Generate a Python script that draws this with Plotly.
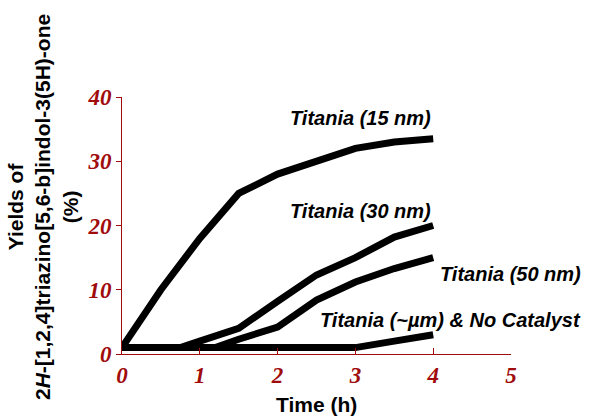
import plotly.graph_objects as go

# Data (time in h, yield in %)
t_15 = [0, 0.5, 1, 1.5, 2, 2.5, 3, 3.5, 4]
y_15 = [1, 10, 18, 25, 28, 30, 32, 33, 33.5]
t_30 = [0, 0.5, 0.75, 1, 1.5, 2, 2.5, 3, 3.5, 4]
y_30 = [1, 1, 1, 2, 4, 8.2, 12.3, 15, 18.2, 20]
t_50 = [0, 0.5, 1, 1.2, 1.5, 2, 2.5, 3, 3.5, 4]
y_50 = [1, 1, 1, 1, 2.3, 4.2, 8.4, 11.2, 13.3, 15]
t_um = [0, 0.5, 1, 1.5, 2, 2.5, 3, 3.5, 4]
y_um = [1, 1, 1, 1, 1, 1, 1, 2, 3]

labels = ["Titania (15 nm)", "Titania (30 nm)", "Titania (50 nm)",
          "Titania (~<i>µ</i>m) & No Catalyst"]
label_pos = [(4.0, 36.7, "right"), (4.0, 22.2, "right"),
             (4.06, 12.4, "left"), (2.52, 5.3, "left")]

x_ticks = [0, 1, 2, 3, 4, 5]
y_ticks = [0, 10, 20, 30, 40]

RED = "#a00c0c"

fig = go.Figure()
for tx, ty in [(t_15, y_15), (t_30, y_30), (t_50, y_50), (t_um, y_um)]:
    fig.add_trace(go.Scatter(x=tx, y=ty, mode="lines",
                             line=dict(color="black", width=7),
                             cliponaxis=False, showlegend=False))

for lab, (lx, ly, anc) in zip(labels, label_pos):
    fig.add_annotation(x=lx, y=ly, text="<b><i>" + lab + "</i></b>",
                       showarrow=False, xanchor=anc, yanchor="middle",
                       font=dict(family="Liberation Sans, Arial", size=20, color="black"))

fig.add_annotation(xref="paper", yref="paper", x=-0.203, y=0.572,
                   text="<b>Yields of<br>2<i>H</i>-[1,2,4]triazino[5,6-b]indol-3(5H)-one<br>(%)</b>",
                   textangle=-90, showarrow=False, xanchor="center", yanchor="middle",
                   font=dict(family="Liberation Sans, Arial", size=21, color="black"))

fig.add_annotation(xref="paper", yref="paper", x=0.5, y=-0.198,
                   text="<b>Time (h)</b>", showarrow=False,
                   xanchor="center", yanchor="middle",
                   font=dict(family="Liberation Sans, Arial", size=21, color="black"))

fig.update_layout(
    width=595, height=417,
    margin=dict(l=122, r=84, t=97, b=63),
    plot_bgcolor="white", paper_bgcolor="white",
    xaxis=dict(range=[0, 5], tickvals=x_ticks, ticktext=["<b><i>%d</i></b>" % v for v in x_ticks],
               showgrid=False, zeroline=False, showline=True, linecolor=RED, linewidth=1,
               ticks="inside", ticklen=6, tickcolor=RED,
               tickfont=dict(family="Liberation Serif, Times New Roman", size=23, color=RED)),
    yaxis=dict(range=[0, 40], tickvals=y_ticks, ticktext=["<b><i>%d</i></b>" % v for v in y_ticks],
               showgrid=False, zeroline=False, showline=True, linecolor=RED, linewidth=1,
               ticks="outside", ticklen=5, tickcolor=RED,
               tickfont=dict(family="Liberation Serif, Times New Roman", size=23, color=RED)),
)

fig.write_html("out.html", config={"displayModeBar": False},
               post_script="document.body.style.margin='0';")
